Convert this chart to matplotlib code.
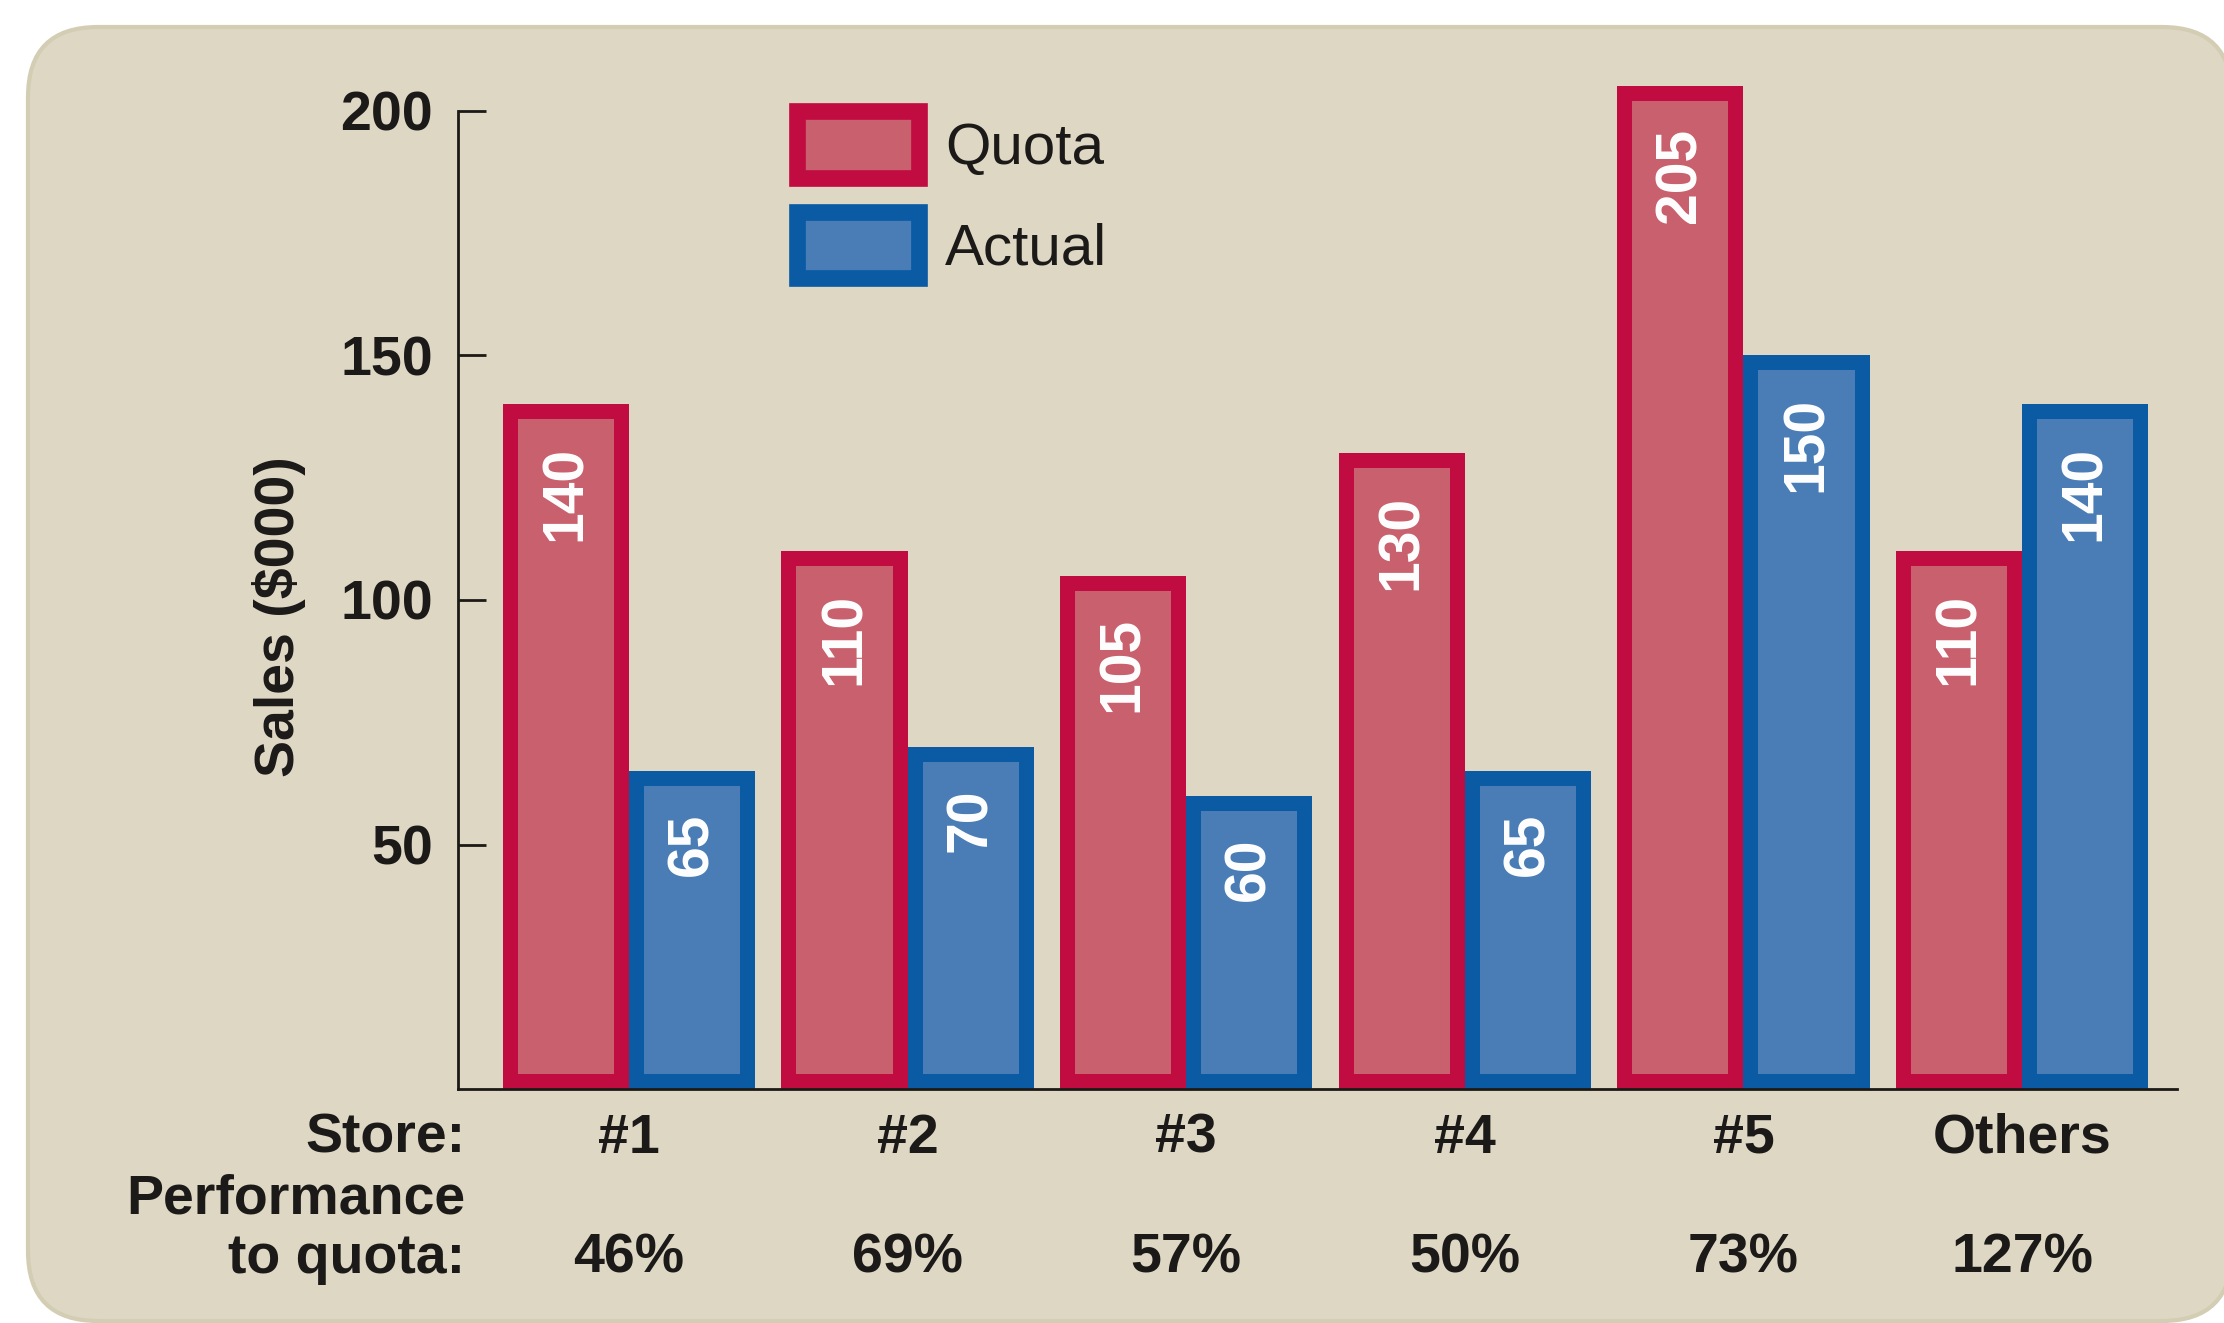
import matplotlib.pyplot as plt
import numpy as np
from matplotlib.patches import FancyBboxPatch, Patch
from matplotlib.transforms import IdentityTransform, blended_transform_factory

# sales by store, in $000
stores = ['#1', '#2', '#3', '#4', '#5', 'Others']
quota = [140, 110, 105, 130, 205, 110]
actual = [65, 70, 60, 65, 150, 140]
performance = ['46%', '69%', '57%', '50%', '73%', '127%']
yticks = [50, 100, 150, 200]

quota_fill, quota_edge = '#C9606D', '#C10C42'
actual_fill, actual_edge = '#4A7DB5', '#0A5BA4'
panel = '#DED7C4'
ink = '#1c1a18'
fs = 40

plt.rcParams['font.family'] = ['Liberation Sans', 'DejaVu Sans']

fig = plt.figure(figsize=(22.24, 13.23), dpi=100, facecolor='white')

# rounded beige panel behind everything (pixel coordinates)
fig.add_artist(FancyBboxPatch((28, 2), 2204, 1294,
                              boxstyle='round,pad=0,rounding_size=70',
                              transform=IdentityTransform(),
                              facecolor=panel, edgecolor='#D3CDB4',
                              linewidth=3, zorder=-1))

ax = fig.add_axes([0.2059, 0.1766, 0.7731, 0.7768])
ax.patch.set_visible(False)

x = np.arange(len(stores))
w = 0.453
ax.set_xlim(-0.614, 5.557)
ax.set_ylim(0, 210)

# border thickness of the bars: 15 px, converted to data units
p = ax.transData.transform([(0, 0), (1, 1)])
bx = 15 / (p[1, 0] - p[0, 0])
by = 15 / (p[1, 1] - p[0, 1])


def framed_bars(xc, vals, fill, edge):
    vals = np.array(vals, dtype=float)
    ax.bar(xc, vals, w, color=edge, linewidth=0)
    ax.bar(xc, vals - 2 * by, w - 2 * bx, bottom=by, color=fill, linewidth=0)
    for xi, v in zip(xc, vals):
        ax.annotate(f'{v:.0f}', (xi, v), xytext=(0, -30), textcoords='offset points',
                    rotation=90, ha='center', va='top', color='white',
                    fontsize=41, fontweight='bold')


framed_bars(x - w / 2, quota, quota_fill, quota_edge)
framed_bars(x + w / 2, actual, actual_fill, actual_edge)

# axes styling
for side in ['top', 'right']:
    ax.spines[side].set_visible(False)
ax.spines['left'].set_bounds(0, 200)
for side in ['left', 'bottom']:
    ax.spines[side].set_color(ink)
    ax.spines[side].set_linewidth(2)
ax.set_xticks([])
ax.set_yticks(yticks)
ax.set_yticklabels([str(t) for t in yticks], fontweight='bold')
ax.tick_params(axis='y', direction='in', length=20, width=2, pad=18,
               labelsize=fs, colors=ink)

fig.text(0.1256, 0.5338, 'Sales ($000)', rotation=90, ha='center', va='center',
         fontsize=fs, fontweight='bold', color=ink)

# store names and performance row under the axis
trans = blended_transform_factory(ax.transData, fig.transFigure)
for xi, s, pct in zip(x, stores, performance):
    ax.text(xi, 0.1285, s, transform=trans, ha='center', va='baseline',
            fontsize=fs, fontweight='bold', color=ink)
    ax.text(xi, 0.0378, pct, transform=trans, ha='center', va='baseline',
            fontsize=fs, fontweight='bold', color=ink)

for y, s in [(0.1285, 'Store:'), (0.0831, 'Performance'), (0.0378, 'to quota:')]:
    fig.text(0.2091, y, s, ha='right', va='baseline', fontsize=fs,
             fontweight='bold', color=ink)

handles = [Patch(facecolor=quota_fill, edgecolor=quota_edge, linewidth=12, label='Quota'),
           Patch(facecolor=actual_fill, edgecolor=actual_edge, linewidth=12, label='Actual')]
ax.legend(handles=handles, loc='upper left', bbox_to_anchor=(0.197, 0.9516),
          frameon=False, fontsize=42, handlelength=2.09, handleheight=1.38,
          handletextpad=0.45, labelspacing=0.575, borderpad=0, borderaxespad=0,
          labelcolor=ink)

fig.savefig('out.png', dpi=100, facecolor='white')
